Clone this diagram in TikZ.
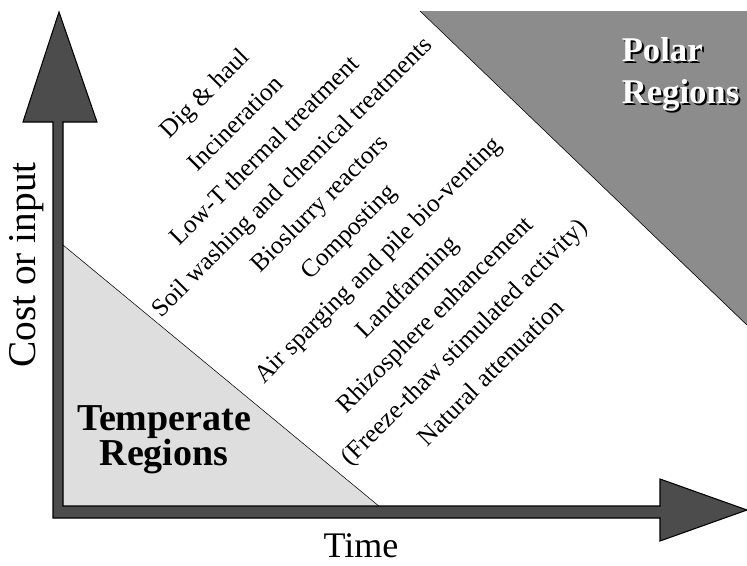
\documentclass[tikz,border=0pt]{standalone}
\usepackage{fontspec}
\setmainfont{Liberation Serif}
\usepackage{tikz}

\definecolor{arrowgray}{gray}{0.3}
\definecolor{polargray}{gray}{0.55}
\definecolor{tempgray}{gray}{0.87}

\tikzset{
  method/.style={rotate=45, inner sep=0pt, font=\fontsize{19}{23}\selectfont},
  region/.style={inner sep=0pt}
}

\begin{document}
\begin{tikzpicture}[x=0.75pt, y=-0.75pt]

\useasboundingbox (0,0) rectangle (747,565);

% the two regions
\fill[tempgray] (63,245) -- (380,507) -- (63,507) -- cycle;
\draw (63,245) -- (380,507);
\fill[polargray] (420,11) -- (760,11) -- (760,338) -- cycle;
\draw (420,11) -- (747,325);

% axes, one outline
\coordinate (o) at (53,518);
\coordinate (ytip) at (59,12);
\coordinate (xtip) at (747,510);
\filldraw[fill=arrowgray, draw=black, line width=0.8pt]
  (o) -- (53,122) -- (23,122) -- (ytip) -- (97,122) -- (63,122)
  -- (63,506) -- (660,506) -- (660,479) -- (xtip) -- (660,541)
  -- (660,518) -- cycle;

\node[rotate=90, font=\fontsize{29.5}{32}\selectfont] (cost) at (27,265) {Cost or input};
\node[anchor=base, font=\fontsize{27}{30}\selectfont] (time) at (361,557) {Time};

\node[region, align=center, font=\fontsize{28.5}{26}\selectfont\bfseries] (temperate) at (164,440) {Temperate\\Regions};
%\node at (164,440)[circle,fill,inner sep=1pt]{};
\node[region, align=left, anchor=north west, text=black, font=\fontsize{26}{31}\selectfont\bfseries] (polarshadow) at (623.5,39.5) {Polar\\Regions};
\node[region, align=left, anchor=north west, text=white, font=\fontsize{26}{31}\selectfont\bfseries] (polar) at (621.5,37.5) {Polar\\Regions};

% methods, from dear to cheap
\node[method] (dig) at (206,95) {Dig \& haul};
\node[method] (inc) at (235,123) {Incineration};
\node[method] (lowt) at (264,150) {Low-T thermal treatment};
\node[method] (soil) at (293,178) {Soil washing and chemical treatments};
\node[method] (bioslurry) at (321,205) {Bioslurry reactors};
\node[method] (compost) at (350,233) {Composting};
\node[method] (air) at (379,261) {Air sparging and pile bio-venting};
\node[method] (land) at (408,288) {Landfarming};
\node[method] (rhizo) at (436,316) {Rhizosphere enhancement};
\node[method] (freeze) at (465,343) {(Freeze-thaw stimulated activity)};
\node[method] (natural) at (490,372) {Natural attenuation};

\end{tikzpicture}
\end{document}
